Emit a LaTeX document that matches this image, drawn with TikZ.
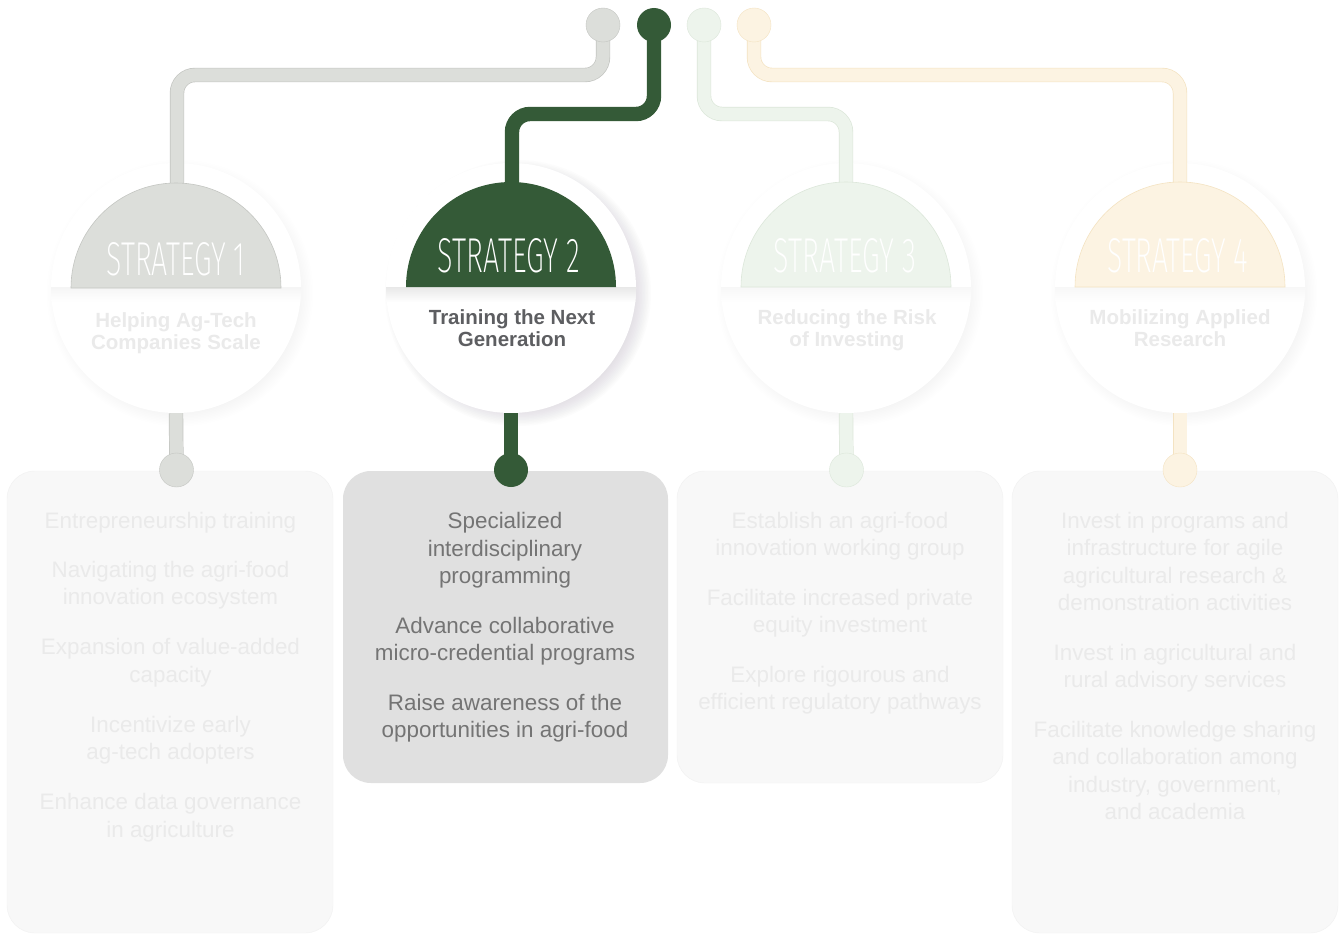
\documentclass[tikz,border=0pt]{standalone}
\usepackage{fontspec}
\setmainfont{Liberation Sans}
\newfontfamily\stratfont{Fira Sans ExtraLight}
\usetikzlibrary{calc}
\definecolor{grayA}{HTML}{DCDEDA}
\definecolor{grayAedge}{HTML}{C4C6C2}
\definecolor{greenB}{HTML}{345A37}
\definecolor{greenC}{HTML}{EDF4EC}
\definecolor{greenCedge}{HTML}{DCE7DA}
\definecolor{creamD}{HTML}{FCF3E2}
\definecolor{creamDedge}{HTML}{F4E3C2}
\definecolor{fadebox}{HTML}{F8F8F8}
\definecolor{fadeedge}{HTML}{F1F1F1}
\definecolor{fadetxt}{HTML}{EAEAEA}
\definecolor{activebox}{HTML}{E0E0E0}
\definecolor{activetxt}{HTML}{747474}
\definecolor{subdark}{HTML}{5D5E61}
\definecolor{shadowc}{HTML}{8A8290}
\begin{document}
\begin{tikzpicture}[x=1pt,y=-1pt,
  conn/.style={line width=0.7pt, double distance=13pt, rounded corners=18pt},
  dot/.style={circle, minimum size=34pt, inner sep=0pt},
  disc/.style={circle, fill=white, minimum size=250pt, inner sep=0pt},
  card/.style={rounded corners=28pt, inner sep=0pt},
  itemtxt/.style={anchor=base, font=\fontsize{22.4}{27.3}\selectfont, inner sep=0pt},
  subtxt/.style={anchor=base, font=\fontsize{20.5}{22}\selectfont\bfseries, inner sep=0pt},
  stratlbl/.style={anchor=base, inner sep=0pt, text=white}]

\useasboundingbox (0,0) rectangle (1341,934);
\fill[white] (0,0) rectangle (1341,934);

% ---------- cards ----------
\node[card, fill=fadebox, draw=fadeedge, minimum width=326pt, minimum height=462pt] (box1) at (170,702) {};
\node[card, fill=activebox, minimum width=325pt, minimum height=312pt] (box2) at (505.5,627) {};
\node[card, fill=fadebox, draw=fadeedge, minimum width=326pt, minimum height=312pt] (box3) at (840,627) {};
\node[card, fill=fadebox, draw=fadeedge, minimum width=326pt, minimum height=462pt] (box4) at (1175,702) {};

% ---------- circle shadows ----------
\foreach \cx/\op/\dx in {176/0.007/4, 511/0.02/7, 846/0.007/4, 1180/0.007/4}{
  \foreach \k in {1,...,14}{
    \fill[shadowc, opacity=\op] (\cx+\dx,293) circle[radius={112pt+\k*1.5pt}];
  }
}

% ---------- white discs ----------
\node[disc] (c1) at (176,288) {};
\node[disc] (c2) at (511,288) {};
\node[disc] (c3) at (846,288) {};
\node[disc] (c4) at (1180,288) {};

% band shading under the domes
\foreach \cx/\s in {176/4, 511/9, 846/3, 1180/3}{
  \begin{scope}
    \clip (\cx,288) circle[radius=125pt];
    \shade[top color=black!\s, bottom color=white] (\cx-130,287) rectangle (\cx+130,302);
  \end{scope}
}

% ---------- coordinates ----------
\coordinate (t1) at (603,25);
\coordinate (t2) at (654,25);
\coordinate (t3) at (704,25);
\coordinate (t4) at (754,25);
\coordinate (r1) at (0,75);
\coordinate (r2) at (0,114);
\coordinate (r3) at (0,114);
\coordinate (r4) at (0,75);
\coordinate (d1) at (177,188);
\coordinate (d2) at (512,186);
\coordinate (d3) at (846,186);
\coordinate (d4) at (1180,188);
\coordinate (b1) at (176.5,470);
\coordinate (b2) at (511,470);
\coordinate (b3) at (846.5,470);
\coordinate (b4) at (1180,470);

% ---------- top connectors ----------
\draw[conn, draw=grayAedge, double=grayA] (t1) -- (t1 |- r1) -| (d1);
\draw[conn, draw=greenB, double=greenB] (t2) -- (t2 |- r2) -| (d2);
\draw[conn, draw=greenCedge, double=greenC] (t3) -- (t3 |- r3) -| (d3);
\draw[conn, draw=creamDedge, double=creamD] (t4) -- (t4 |- r4) -| (d4);

% ---------- bottom connectors ----------
\draw[conn, draw=grayAedge, double=grayA] (c1.south) -- (b1);
\draw[conn, draw=greenB, double=greenB] (c2.south) -- (b2);
\draw[conn, draw=greenCedge, double=greenC] (c3.south) -- (b3);
\draw[conn, draw=creamDedge, double=creamD] (c4.south) -- (b4);

% ---------- domes ----------
\filldraw[fill=grayA, draw=grayAedge, line width=0.6pt] (71,288) arc[start angle=180, end angle=0, radius=105pt] -- cycle;
\fill[greenB] (406,287) arc[start angle=180, end angle=0, radius=105pt] -- cycle;
\filldraw[fill=greenC, draw=greenCedge, line width=0.6pt] (741,287) arc[start angle=180, end angle=0, radius=105pt] -- cycle;
\filldraw[fill=creamD, draw=creamDedge, line width=0.6pt] (1075,287) arc[start angle=180, end angle=0, radius=105pt] -- cycle;

% ---------- dots ----------
\node[dot, fill=grayA, draw=grayAedge] (t1dot) at (t1) {};
\node[dot, fill=greenB] (t2dot) at (t2) {};
\node[dot, fill=greenC, draw=greenCedge] (t3dot) at (t3) {};
\node[dot, fill=creamD, draw=creamDedge] (t4dot) at (t4) {};
\node[dot, fill=grayA, draw=grayAedge] (b1dot) at (b1) {};
\node[dot, fill=greenB] (b2dot) at (b2) {};
\node[dot, fill=greenC, draw=greenCedge] (b3dot) at (b3) {};
\node[dot, fill=creamD, draw=creamDedge] (b4dot) at (b4) {};

% ---------- strategy labels ----------
\node[stratlbl] (s1) at (176,275) {\resizebox{139pt}{33pt}{\stratfont STRATEGY 1}};
\node[stratlbl] (s2) at (509,272) {\resizebox{142pt}{34pt}{\stratfont STRATEGY 2}};
\node[stratlbl] (s3) at (845,272) {\resizebox{142pt}{34pt}{\stratfont STRATEGY 3}};
\node[stratlbl] (s4) at (1178,272) {\resizebox{141pt}{34pt}{\stratfont STRATEGY 4}};

% ---------- subtitles ----------
\node[subtxt, text=fadetxt] (h1a) at (176,327) {Helping Ag-Tech};
\node[subtxt, text=fadetxt] (h1b) at (176,349) {Companies Scale};
\node[subtxt, text=subdark] (h2a) at (512,324) {Training the Next};
\node[subtxt, text=subdark] (h2b) at (512,346) {Generation};
\node[subtxt, text=fadetxt] (h3a) at (847,324) {Reducing the Risk};
\node[subtxt, text=fadetxt] (h3b) at (847,346) {of Investing};
\node[subtxt, text=fadetxt] (h4a) at (1180,324) {Mobilizing Applied};
\node[subtxt, text=fadetxt] (h4b) at (1180,346) {Research};

% ---------- card items ----------
\foreach \yy/\txt [count=\i] in {528/Entrepreneurship training, 577/Navigating the agri-food, 604/innovation ecosystem, 654/Expansion of value-added, 682/capacity, 732/Incentivize early, 759/ag-tech adopters, 809/Enhance data governance, 837/in agriculture}
  \node[itemtxt, text=fadetxt] (p1-\i) at (170.5,\yy) {\txt};

\foreach \yy/\txt [count=\i] in {528/Specialized, 556/interdisciplinary, 583/programming, 633/Advance collaborative, 660/micro-credential programs, 710/Raise awareness of the, 737/opportunities in agri-food}
  \node[itemtxt, text=activetxt] (p2-\i) at (505,\yy) {\txt};

\foreach \yy/\txt [count=\i] in {528/Establish an agri-food, 555.5/innovation working group, 605/Facilitate increased private, 632/equity investment, 682/Explore rigourous and, 709.5/efficient regulatory pathways}
  \node[itemtxt, text=fadetxt] (p3-\i) at (840,\yy) {\txt};

\foreach \yy/\txt [count=\i] in {528/Invest in programs and, 555.5/infrastructure for agile, 583/agricultural research \&, 610/demonstration activities, 660/Invest in agricultural and, 687.5/rural advisory services, 737/Facilitate knowledge sharing, 764.5/and collaboration among, 792/{industry, government,}, 819.5/and academia}
  \node[itemtxt, text=fadetxt] (p4-\i) at (1175,\yy) {\txt};

\end{tikzpicture}
\end{document}
